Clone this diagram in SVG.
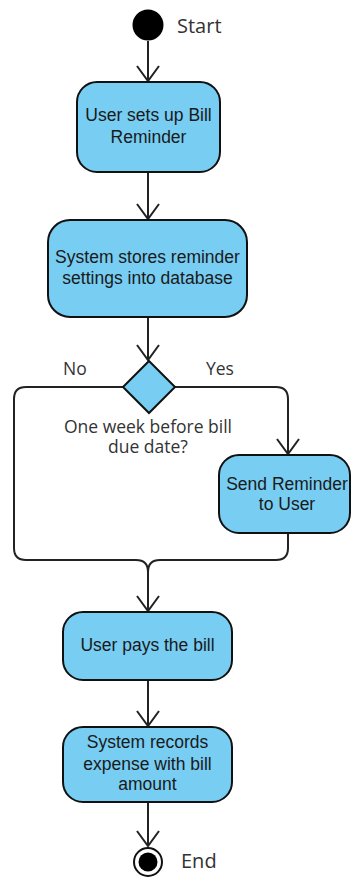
<svg xmlns="http://www.w3.org/2000/svg" width="351" height="877" viewBox="0 0 351 877">
  <style>
    .act { fill: #77CDF2; stroke: #111; stroke-width: 2; }
    .edge { fill: none; stroke: #222; stroke-width: 2; }
    .txt { font-family: "Liberation Sans", Arial, sans-serif; font-size: 17.5px; fill: #1a1a1a; text-anchor: middle; }
    .lbl { font-family: "Open Sans", "Noto Sans", sans-serif; font-size: 17.5px; fill: #333; }
    .big { font-family: "Open Sans", "Noto Sans", sans-serif; font-size: 20px; fill: #333; }
  </style>
  <defs>
    <marker id="arrow" viewBox="-17 -13 19 26" markerWidth="19" markerHeight="26" refX="0" refY="0" orient="auto" markerUnits="userSpaceOnUse">
      <path d="M-15,-11 L0,0 L-15,11" fill="none" stroke="#222" stroke-width="2"/>
    </marker>
  </defs>

  <rect width="351" height="877" fill="#fff"/>

  <g id="connectors">
    <path class="edge" d="M148,41 V81" marker-end="url(#arrow)"/>
    <path class="edge" d="M148,172 V219" marker-end="url(#arrow)"/>
    <path class="edge" d="M148,317 V360" marker-end="url(#arrow)"/>
    <!-- No branch -->
    <path class="edge" d="M123,387 H26 Q14,387 14,399 V548 Q14,560 26,560 H136 Q148,560 148,572 V611" marker-end="url(#arrow)"/>
    <!-- Yes branch -->
    <path class="edge" d="M175,387 H276 Q288,387 288,399 V454" marker-end="url(#arrow)"/>
    <path class="edge" d="M288,533 V548 Q288,560 276,560 H160 Q148,560 148,572"/>
    <path class="edge" d="M148,680 V726" marker-end="url(#arrow)"/>
    <path class="edge" d="M148,802 V846" marker-end="url(#arrow)"/>
    <text class="lbl" x="63" y="375">No</text>
    <text class="lbl" x="206" y="375">Yes</text>
  </g>

  <g id="start">
    <circle cx="148" cy="25" r="15.5" fill="#000"/>
    <text class="big" x="177" y="33">Start</text>
  </g>

  <g id="setup">
    <rect class="act" x="77" y="82" width="143" height="90" rx="20"/>
    <text class="txt" x="148.5" y="121">User sets up Bill</text>
    <text class="txt" x="148.5" y="143">Reminder</text>
  </g>

  <g id="store">
    <rect class="act" x="48" y="220" width="199" height="97" rx="22"/>
    <text class="txt" x="147.5" y="263">System stores reminder</text>
    <text class="txt" x="147.5" y="284">settings into database</text>
  </g>

  <g id="decision">
    <path class="act" d="M149,361 L175,387 L149,413 L123,387 Z"/>
    <text class="lbl" x="148" y="433" text-anchor="middle">One week before bill</text>
    <text class="lbl" x="148" y="453" text-anchor="middle">due date?</text>
  </g>

  <g id="send">
    <rect class="act" x="219" y="455" width="131" height="78" rx="20"/>
    <text class="txt" x="287" y="490">Send Reminder</text>
    <text class="txt" x="287" y="510">to User</text>
  </g>

  <g id="pay">
    <rect class="act" x="63" y="612" width="169" height="68" rx="20"/>
    <text class="txt" x="147.5" y="651">User pays the bill</text>
  </g>

  <g id="record">
    <rect class="act" x="63" y="727" width="169" height="75" rx="20"/>
    <text class="txt" x="147.5" y="748">System records</text>
    <text class="txt" x="147.5" y="770">expense with bill</text>
    <text class="txt" x="147.5" y="790">amount</text>
  </g>

  <g id="end">
    <circle cx="148" cy="862" r="14" fill="#fff" stroke="#111" stroke-width="2"/>
    <circle cx="148" cy="862" r="9.5" fill="#000"/>
    <text class="big" x="181" y="868">End</text>
  </g>
</svg>
